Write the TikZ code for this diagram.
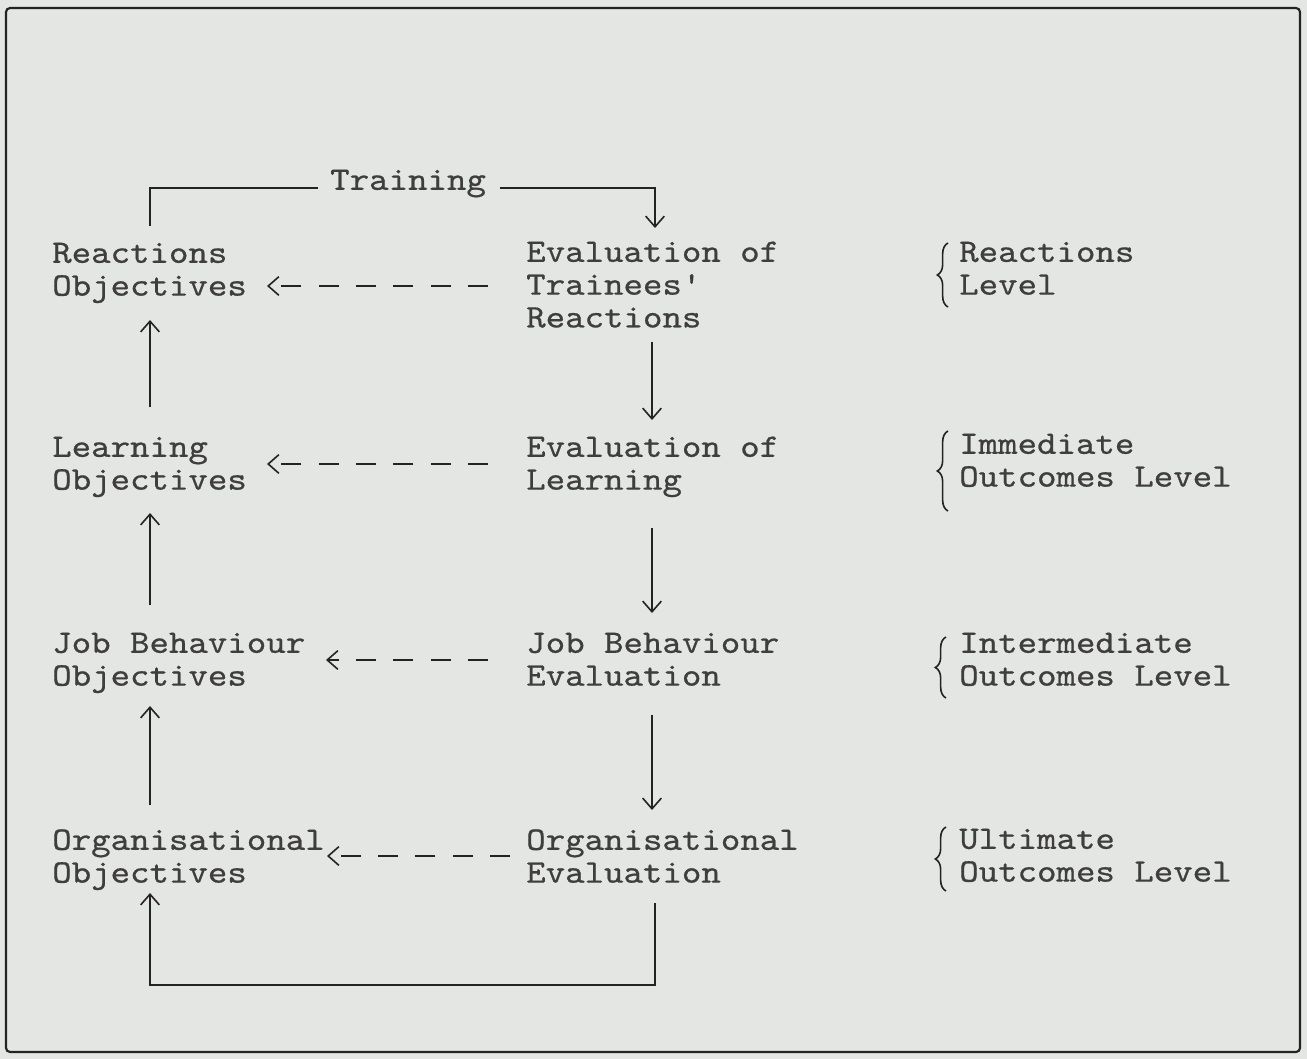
\documentclass[tikz,border=0pt]{standalone}
\usepackage{fontspec}
\setmonofont[FakeStretch=1.13,FakeBold=0.6]{lmmono10-regular.otf}
\usetikzlibrary{arrows.meta,decorations.pathreplacing}
\definecolor{paper}{RGB}{227,230,226}
\definecolor{ink}{RGB}{62,62,60}
\definecolor{lineink}{RGB}{35,35,35}
\begin{document}
\begin{tikzpicture}[x=0.75pt,y=-0.75pt,
  lbl/.style={anchor=north west, inner sep=0pt, align=left,
    font=\ttfamily\fontsize{24.6}{24.6}\selectfont, text=ink},
  conn/.style={draw=lineink, line width=1.4pt},
  tip/.style={-{Straight Barb[length=8pt,width=14pt,line width=1.2pt]}},
  dsh/.style={dash pattern=on 15pt off 13pt},
  brc/.style={draw=lineink, line width=1.2pt, decorate, decoration={brace, amplitude=8pt}}]
\fill[paper] (0,0) rectangle (1307,1059);
\useasboundingbox (0,0) rectangle (1307,1059);
\draw[lineink, line width=1.6pt, rounded corners=3pt] (6,8) rectangle (1300,1052);

% left column
\node[lbl] (oR) at (52,239.6) {\strut Reactions\\\strut Objectives};
\node[lbl] (oL) at (52,433.6) {\strut Learning\\\strut Objectives};
\node[lbl] (oJ) at (52,629.6) {\strut Job Behaviour\\\strut Objectives};
\node[lbl] (oO) at (52,826.6) {\strut Organisational\\\strut Objectives};
% middle column
\node[lbl] (eR) at (526,238.6) {\strut Evaluation of\\\strut Trainees'\\\strut Reactions};
\node[lbl] (eL) at (526,433.6) {\strut Evaluation of\\\strut Learning};
\node[lbl] (eJ) at (526,629.6) {\strut Job Behaviour\\\strut Evaluation};
\node[lbl] (eO) at (526,826.6) {\strut Organisational\\\strut Evaluation};
% right column
\node[lbl] (lR) at (959,238.6) {\strut Reactions\\\strut Level};
\node[lbl] (lI) at (959,430.6) {\strut Immediate\\\strut Outcomes Level};
\node[lbl] (lJ) at (959,629.6) {\strut Intermediate\\\strut Outcomes Level};
\node[lbl] (lO) at (959,825.6) {\strut Ultimate\\\strut Outcomes Level};
% training label
\node[lbl] (tr) at (330,166.6) {\strut Training};

% coordinates
\coordinate (tA) at (150,226);
\coordinate (tB) at (318,188);
\coordinate (tC) at (500,188);
\coordinate (tD) at (655,228);
\coordinate (u1a) at (150,407); \coordinate (u1b) at (150,320);
\coordinate (u2a) at (150,605); \coordinate (u2b) at (150,513);
\coordinate (u3a) at (150,805); \coordinate (u3b) at (150,706);
\coordinate (u4b) at (150,893);
\coordinate (bL) at (150,985); \coordinate (bR) at (655,985);
\coordinate (bT) at (655,903);
\coordinate (d1a) at (652,342); \coordinate (d1b) at (652,420);
\coordinate (d2a) at (652,528); \coordinate (d2b) at (652,613);
\coordinate (d3a) at (652,715); \coordinate (d3b) at (652,810);
\coordinate (h1a) at (488,286); \coordinate (h1b) at (267,286);
\coordinate (h2a) at (488,464); \coordinate (h2b) at (267,464);
\coordinate (h3a) at (488,660); \coordinate (h3b) at (326,660);
\coordinate (h4a) at (510,856); \coordinate (h4b) at (327,856);

% training loop
\draw[conn] (tA) |- (tB);
\draw[conn, tip] (tC) -| (tD);
% up arrows on left
\draw[conn, tip] (u1a) -- (u1b);
\draw[conn, tip] (u2a) -- (u2b);
\draw[conn, tip] (u3a) -- (u3b);
% bottom feedback loop
\draw[conn, tip] (bT) |- (bL) -- (u4b);
% down arrows in middle
\draw[conn, tip] (d1a) -- (d1b);
\draw[conn, tip] (d2a) -- (d2b);
\draw[conn, tip] (d3a) -- (d3b);
% dashed arrows
\draw[conn, tip, dsh] (h1a) -- (h1b);
\draw[conn, tip, dsh] (h2a) -- (h2b);
\draw[conn, tip, dsh] (h3a) -- (h3b);
\draw[conn, tip, dsh] (h4a) -- (h4b);

% braces
\draw[brc] (948,307) -- (948,243);
\draw[brc] (948,511) -- (948,431);
\draw[brc] (946,698) -- (946,637);
\draw[brc] (946,891) -- (946,827);
\end{tikzpicture}
\end{document}
